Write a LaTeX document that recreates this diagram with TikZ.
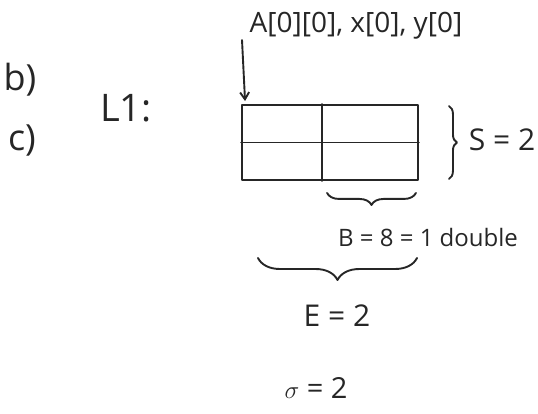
\documentclass[tikz,border=0pt]{standalone}
\usepackage{fontspec}
\setmainfont{Open Sans}
\usetikzlibrary{decorations.pathreplacing,arrows.meta}
\begin{document}
\begin{tikzpicture}[x=1pt,y=1pt,
  ink/.style={line width=1.9pt,draw=black!85,line cap=round,line join=round},
  lbl/.style={inner sep=0pt,text=black!85},
  brc/.style={ink,decorate,decoration={brace,amplitude=#1}},
  brc/.default=8pt]
\useasboundingbox (0,0) rectangle (538,-414);
% texts
\node[lbl,font=\fontsize{28}{32}\selectfont] (vars) at (356,-26) {A[0][0], x[0], y[0]};
\node[lbl,font=\fontsize{36}{40}\selectfont] (b) at (20,-80) {b)};
\node[lbl,font=\fontsize{36}{40}\selectfont] (c) at (22,-140) {c)};
\node[lbl,font=\fontsize{38}{42}\selectfont] (L1) at (126,-108) {L1:};
% cache grid
\node[ink,draw,rectangle,minimum width=176pt,minimum height=75pt,inner sep=0pt] (grid) at (330,-142.5) {};
\draw[ink] ([xshift=81pt]grid.north west) -- ([xshift=81pt]grid.south west);
\draw[ink] (grid.west) -- (grid.east);
% arrow
\coordinate (astart) at (242,-40);
\draw[ink,-{Straight Barb[length=7pt,width=9pt]}] (astart) -- ([xshift=4pt,yshift=3pt]grid.north west);
% braces
\coordinate (s1) at ([xshift=30pt,yshift=-2pt]grid.north east);
\coordinate (s2) at ([xshift=30pt,yshift=2pt]grid.south east);
\draw[brc=8pt] (s1) -- (s2);
\node[lbl,font=\fontsize{30}{34}\selectfont] (S) at (502,-140) {S = 2};
\coordinate (b1) at ([xshift=-3pt,yshift=-12pt]grid.south east);
\coordinate (b2) at ([xshift=86pt,yshift=-12pt]grid.south west);
\draw[brc=12pt] (b1) -- (b2);
\node[lbl,font=\fontsize{24}{28}\selectfont] (B) at (428,-238) {B = 8 = 1 double};
\coordinate (e1) at (417,-258);
\coordinate (e2) at (258,-258);
\draw[brc=22pt] (e1) -- (e2);
\node[lbl,font=\fontsize{30}{34}\selectfont] (E) at (337,-316) {E = 2};
\node[lbl,font=\fontsize{29}{33}\selectfont] (t) at (316,-388) {$\sigma$ = 2};
\end{tikzpicture}
\end{document}
